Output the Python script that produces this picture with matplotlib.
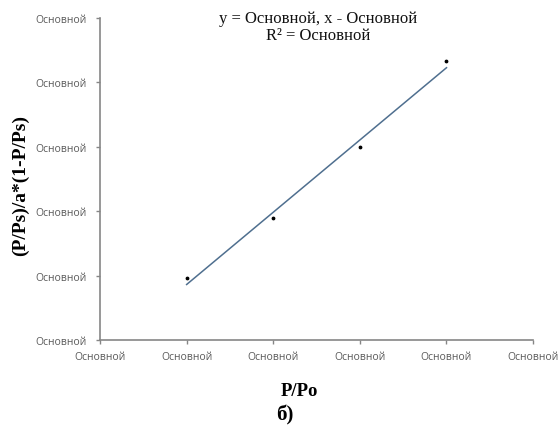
import numpy as np
import matplotlib.pyplot as plt

x = np.array([1, 2, 3, 4])
y = np.array([0.96, 1.89, 3.0, 4.33])
tick_text = "Основной"

k, b = np.polyfit(x, y, 1)
line_x = np.array([1, 4])
line_y = k * line_x + b

fig = plt.figure(figsize=(5.6, 4.27), dpi=100)
ax = fig.add_axes([0.1786, 0.2014, 0.7734, 0.7541])

ax.plot(line_x, line_y, color='#4f6f8f', linewidth=1.1)
ax.scatter(x, y, s=3, color='black', zorder=3)

ax.set_xlim(0, 5)
ax.set_ylim(0, 5)
ax.set_xticks(range(6))
ax.set_yticks(range(6))
ax.set_xticklabels([tick_text] * 6)
ax.set_yticklabels([tick_text] * 6)
for lbl in ax.get_xticklabels() + ax.get_yticklabels():
    lbl.set_fontfamily('Open Sans')
    lbl.set_fontsize(7.5)
    lbl.set_color('#595959')
ax.tick_params(axis='both', direction='out', length=3, color='#868686', width=1)
ax.tick_params(axis='x', pad=5)
ax.tick_params(axis='y', pad=7)

for side in ['top', 'right']:
    ax.spines[side].set_visible(False)
for side in ['left', 'bottom']:
    ax.spines[side].set_color('#868686')
    ax.spines[side].set_linewidth(1.2)

fig.text(318 / 560, 1 - 19 / 427, "y = Основной, x - Основной", ha='center', va='center',
         family='Liberation Serif', fontsize=12, color='#111111')
fig.text(318 / 560, 1 - 36 / 427, "R² = Основной", ha='center', va='center',
         family='Liberation Serif', fontsize=12, color='#111111')

fig.text(299 / 560, 1 - 392 / 427, "P/Po", ha='center', va='center',
         family='Liberation Serif', fontsize=13.5, fontweight='bold')
fig.text(285 / 560, 1 - 415 / 427, "б)", ha='center', va='center',
         family='Liberation Serif', fontsize=15, fontweight='bold')
fig.text(20 / 560, 1 - 185 / 427, "(P/Ps)/a*(1-P/Ps)", ha='center', va='center', rotation=90,
         family='Liberation Serif', fontsize=14, fontweight='bold')

fig.savefig('out.png', dpi=100)
